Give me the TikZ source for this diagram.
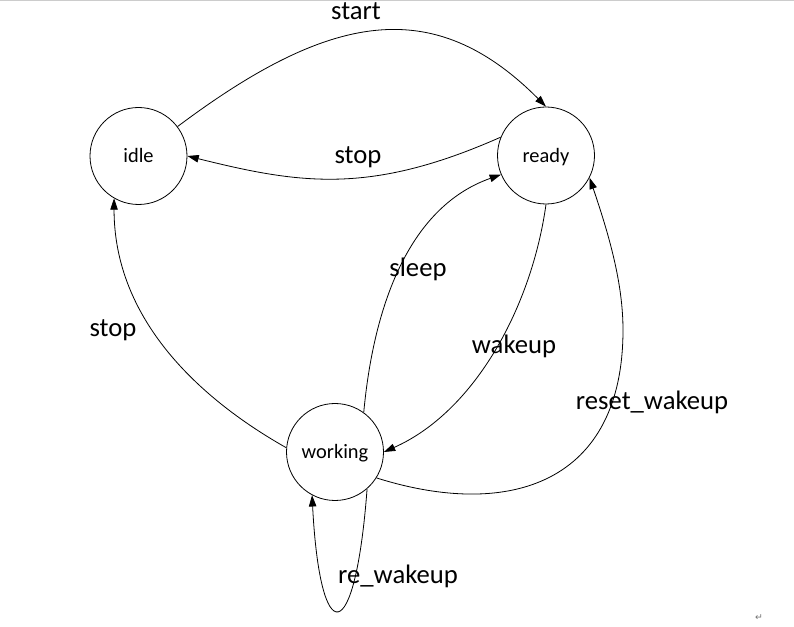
\documentclass[tikz,border=0pt]{standalone}
\usepackage{fontspec}
\setmainfont{Carlito}
\newfontfamily\symfont{DejaVu Sans}
\usetikzlibrary{arrows.meta}

\begin{document}
\begin{tikzpicture}[x=0.75pt, y=-0.75pt,
    state/.style={draw, circle, line width=0.6pt, minimum size=72.75pt, inner sep=0pt, text height=10pt, text depth=0pt, font=\fontsize{15.3}{18}\selectfont},
    trans/.style={line width=0.6pt, -{Triangle[length=8.5pt,width=5.6pt]}},
    lbl/.style={anchor=base, inner sep=0pt, font=\fontsize{20}{24}\selectfont}]
 \useasboundingbox (0,0) rectangle (794,627);
 \draw[black!20, line width=0.75pt] (0,0.5) -- (794,0.5);
 % states
 \node[state] (idle) at (138.5,156) {idle};
 \node[state] (ready) at (546,155.5) {ready};
 \node[state] (working) at (335,452) {working};
 \coordinate (rwturn) at (623,330);
 % transitions
 \draw[trans] (idle.37) .. controls (329,13) and (433,-7) .. (ready.north);
 \draw[trans] (ready.158) .. controls (370,195) and (300,184) .. (idle.0);
 \draw[trans] (working.54) .. controls (373,312) and (406,208) .. (ready.203);
 \draw[trans] (ready.south) .. controls (532,305) and (476,411) .. (working.east);
 \draw[trans] (working.-32) .. controls (510,520) and (623,483) .. (rwturn)
       .. controls (623,283) and (609,235) .. (ready.-27);
 \draw[trans] (working.175) .. controls (200,399) and (114,320) .. (idle.-120);
 \draw[trans] (working.-49) .. controls (355,650) and (320,650) .. (working.-118);
 % labels
 \node[lbl] (lstart) at (356,20) {start};
 \node[lbl] (lstopa) at (358,164) {stop};
 \node[lbl] (lsleep) at (418,277) {sleep};
 \node[lbl] (lwake) at (514,354) {wakeup};
 \node[lbl] (lreset) at (652,410) {reset\_wakeup};
 \node[lbl] (lstopb) at (113,337) {stop};
 \node[lbl] (lrewake) at (398,584) {re\_wakeup};
 \node[font=\symfont\fontsize{7}{8}\selectfont, text=black!55, inner sep=0pt] (pmark) at (759,618) {↵};
\end{tikzpicture}
\end{document}
